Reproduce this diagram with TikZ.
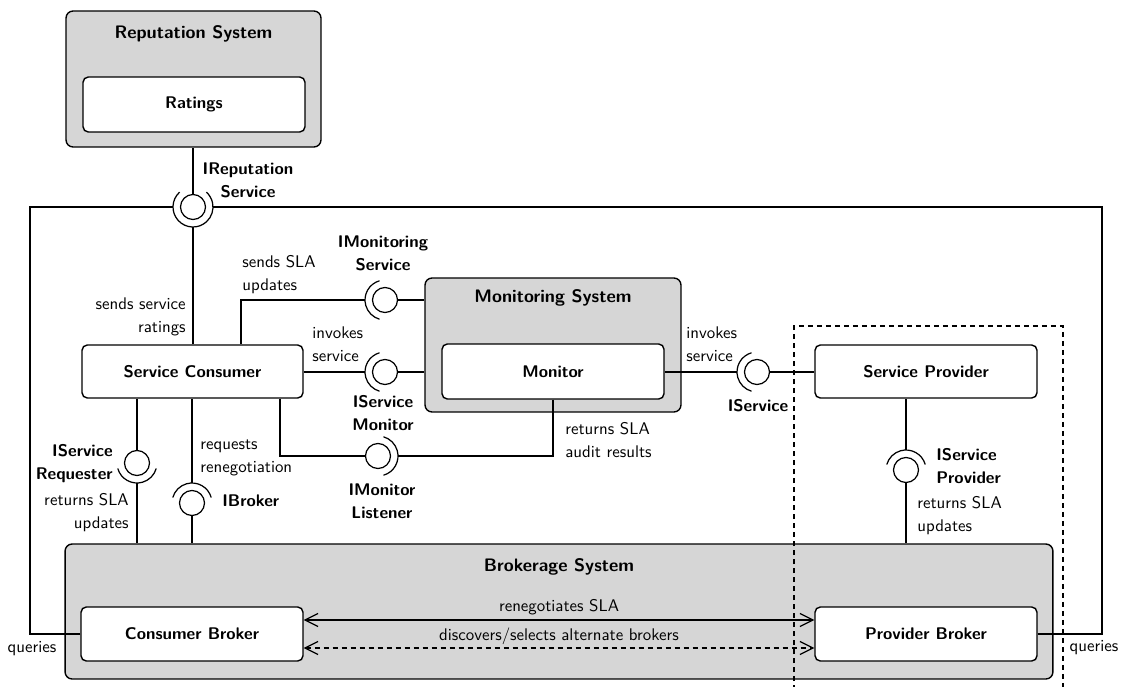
\documentclass[tikz,border=0pt]{standalone}
\usepackage{fontspec}
\usetikzlibrary{arrows.meta}
\definecolor{sysgray}{RGB}{214,214,214}
\newcommand\fsz{\fontsize{9.6}{13}\selectfont}
\newcommand\tsz{\fontsize{10.3}{13}\selectfont}
% arc of a required interface around ball #1, open towards angle #2
\newcommand\socketarc[2]{%
  \draw[conn] ([shift={(#2+106:0.4cm)}]#1.center)
    arc[start angle=#2+106, end angle=#2+254, radius=0.4cm];}
\begin{document}
\begin{tikzpicture}[x=0.02cm, y=-0.02cm,
  font=\sffamily\fsz,
  sysbox/.style={draw, line width=0.8pt, fill=sysgray, rounded corners=4pt, inner sep=0pt},
  compbox/.style={draw, line width=0.8pt, fill=white, rounded corners=3pt, inner sep=0pt,
    font=\sffamily\bfseries\fsz},
  ttl/.style={inner sep=0pt, font=\sffamily\bfseries\tsz},
  conn/.style={line width=0.7pt},
  ball/.style={circle, draw, line width=0.7pt, fill=white, minimum size=0.5cm, inner sep=0pt},
  lbl/.style={inner sep=0pt},
  ilbl/.style={inner sep=0pt, font=\sffamily\bfseries\fsz},
  twoway/.style={conn, {Straight Barb[length=2.6mm, width=2.6mm]}-{Straight Barb[length=2.6mm, width=2.6mm]}}]
\useasboundingbox (0,0) rectangle (1125,686);

% subsystems and components
\node[sysbox, minimum width=5.10cm, minimum height=2.72cm] (rep) at (193.5,79) {};
\node[ttl] (trep) at (193.5,34) {Reputation System};
\node[compbox, minimum width=4.44cm, minimum height=1.10cm] (rat) at (194,104.5) {Ratings};

\node[sysbox, minimum width=5.12cm, minimum height=2.68cm] (mon) at (553,345) {};
\node[ttl] (tmon) at (553,298) {Monitoring System};
\node[compbox, minimum width=4.44cm, minimum height=1.10cm] (mtr) at (553,371.5) {Monitor};

\node[compbox, minimum width=4.42cm, minimum height=1.06cm] (con) at (192.5,371.5) {Service Consumer};
\node[compbox, minimum width=4.44cm, minimum height=1.06cm] (sp) at (926,371.5) {Service Provider};

\node[sysbox, minimum width=19.76cm, minimum height=2.70cm] (brk) at (559,611.5) {};
\node[ttl] (tbrk) at (559,567) {Brokerage System};
\node[compbox, minimum width=4.44cm, minimum height=1.08cm] (cb) at (192,634) {Consumer Broker};
\node[compbox, minimum width=4.44cm, minimum height=1.08cm] (pb) at (926,634) {Provider Broker};

% provider-side deployment boundary
\coordinate (dA) at (794,690);
\coordinate (dB) at (1063,326);
\draw[line width=0.7pt, dash pattern=on 1mm off 0.8mm] (dA) |- (dB) -- (dB |- dA);

% interface balls
\node[ball] (crep) at (193,207) {};
\node[ball] (cms) at (385,300) {};
\node[ball] (csm) at (385,372) {};
\node[ball] (cml) at (378,456) {};
\node[ball] (csr) at (137,463) {};
\node[ball] (cbr) at (192,503) {};
\node[ball] (csv) at (757,372) {};
\node[ball] (csp) at (906,470) {};

% IReputationService
\draw[conn] (crep.north) -- (crep |- rep.south);
\draw[conn] ([shift={(132:0.4cm)}]crep.center) arc[start angle=132, end angle=408, radius=0.4cm];
\draw[conn] (con.north -| crep) -- ([yshift=-0.4cm]crep.center);
\coordinate (qL) at (30,207);
\coordinate (qR) at (1102,207);
\draw[conn] (cb.west) -| (qL) -- ([xshift=-0.4cm]crep.center);
\draw[conn] (pb.east) -| (qR) -- ([xshift=0.4cm]crep.center);

% IMonitoringService
\draw[conn] (cms.east) -- (cms -| mon.west);
\socketarc{cms}{0}
\coordinate (kSLA) at (241,300);
\draw[conn] (kSLA |- con.north) |- ([xshift=-0.4cm]cms.center);

% IServiceMonitor
\draw[conn] (csm.east) -- (csm -| mon.west);
\socketarc{csm}{0}
\draw[conn] (csm -| con.east) -- ([xshift=-0.4cm]csm.center);

% IMonitorListener
\coordinate (kML) at (280,456);
\draw[conn] (kML |- con.south) |- (cml.west);
\socketarc{cml}{180}
\draw[conn] (mtr.south) |- ([xshift=0.4cm]cml.center);

% IServiceRequester
\draw[conn] (csr.north) -- (csr |- con.south);
\socketarc{csr}{90}
\draw[conn] ([yshift=-0.4cm]csr.center) -- (csr |- brk.north);

% IBroker
\draw[conn] (cbr.south) -- (cbr |- brk.north);
\socketarc{cbr}{270}
\draw[conn] ([yshift=0.4cm]cbr.center) -- (cbr |- con.south);

% IService
\draw[conn] (csv.east) -- (csv -| sp.west);
\socketarc{csv}{0}
\draw[conn] ([xshift=-0.4cm]csv.center) -- (csv -| mtr.east);

% IServiceProvider
\draw[conn] (csp.south) -- (csp |- brk.north);
\socketarc{csp}{270}
\draw[conn] ([yshift=0.4cm]csp.center) -- (csp |- sp.south);

% broker to broker
\draw[twoway] ([yshift=0.28cm]cb.east) -- ([yshift=0.28cm]pb.west)
  node[lbl, midway, yshift=0.26cm] (lreneg) {renegotiates SLA};
\draw[twoway, dash pattern=on 1mm off 0.8mm] ([yshift=-0.28cm]cb.east) -- ([yshift=-0.28cm]pb.west)
  node[lbl, midway, yshift=0.24cm] (ldisc) {discovers/selects alternate brokers};

% labels
\node[ilbl, align=center] (lrep) at (248,180) {IReputation\\Service};
\node[lbl, align=right, anchor=east] (lrat) at (186,316.5) {sends service\\ratings};
\node[lbl] (lqL) at (32,649) {queries};
\node[lbl] (lqR) at (1094,648) {queries};
\node[ilbl, align=center] (lms) at (383,253.5) {IMonitoring\\Service};
\node[lbl, align=left, anchor=west] (lsla) at (242,275) {sends SLA\\updates};
\node[lbl, align=left, anchor=west] (linv) at (312,344.5) {invokes\\service};
\node[ilbl, align=center] (lsm) at (383,413) {IService\\Monitor};
\node[ilbl, align=center] (lml) at (382,501.5) {IMonitor\\Listener};
\node[lbl, align=left, anchor=west] (laud) at (565,440) {returns SLA\\audit results};
\node[ilbl, align=right, anchor=east] (lsr) at (113,463.5) {IService\\Requester};
\node[lbl, align=right, anchor=east] (lret) at (129,513) {returns SLA\\updates};
\node[lbl, align=left, anchor=west] (lreq) at (200,457.5) {requests\\renegotiation};
\node[ilbl, anchor=west] (lbr) at (222,501) {IBroker};
\node[lbl, align=left, anchor=west] (linv2) at (686,344) {invokes\\service};
\node[ilbl] (lsv) at (758,406) {IService};
\node[ilbl, align=left, anchor=west] (lsp) at (936,466) {IService\\Provider};
\node[lbl, align=left, anchor=west] (lret2) at (917,515.5) {returns SLA\\updates};
\end{tikzpicture}
\end{document}
